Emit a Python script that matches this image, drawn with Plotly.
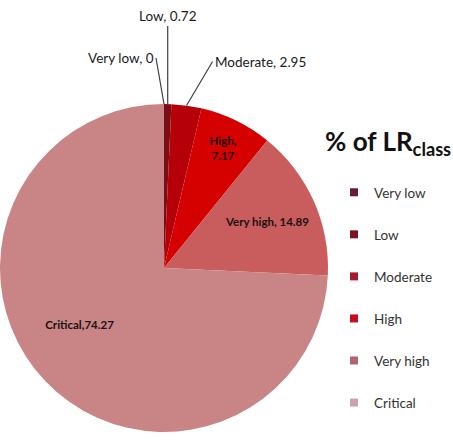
import math
import plotly.graph_objects as go

labels = ["Very low", "Low", "Moderate", "High", "Very high", "Critical"]
values = [0, 0.72, 2.95, 7.17, 14.89, 74.27]
slice_colors = ["#5c1526", "#7b0d16", "#b5000a", "#d50000", "#c95c5c", "#c98585"]
legend_colors = ["#6a1a2c", "#7c1420", "#a51a2e", "#c4101e", "#b26470", "#c9a3aa"]
outside = [True, True, True, False, False, False]

W, H = 453, 444
cx, cy, R = 164, 268, 164

pad = "&nbsp;" * 18
texts = []
for lab, v, out in zip(labels, values, outside):
    if out:
        texts.append(lab)
    elif lab == "High":
        texts.append(f"{lab},<br>{v}")
    elif lab == "Critical":
        texts.append(f"{lab},{v}{pad}")
    else:
        texts.append(f"{lab}, {v}")
positions = ["none" if o else "inside" for o in outside]

fig = go.Figure()
fig.add_trace(go.Pie(
    labels=labels, values=values, sort=False, direction="clockwise", rotation=0,
    marker=dict(colors=slice_colors, line=dict(width=0)),
    text=texts, textinfo="text", textposition=positions, insidetextorientation="horizontal",
    textfont=dict(family="Lato", size=11.5, color="#1a1010", weight="bold"),
    domain=dict(x=[(cx - R) / W, (cx + R) / W], y=[1 - (cy + R) / H, 1 - (cy - R) / H]),
    showlegend=False, hoverinfo="label+value",
))

# legend via dummy traces to get wide item spacing
for lab, col in zip(labels, legend_colors):
    fig.add_trace(go.Scatter(
        x=[None], y=[None], mode="markers", name=lab, legendgroup=lab,
        marker=dict(symbol="square", size=8, color=col),
    ))

# outside labels with leader lines, anchored on the pie rim from the data
def rim(frac):
    a = 2 * math.pi * frac
    return cx + R * math.sin(a), cy - R * math.cos(a)

cum = 0
offsets = {"Very low": (-8, -46), "Low": (0, -78), "Moderate": (26, -44)}
for lab, v, out in zip(labels, values, outside):
    mid = (cum + v / 2) / sum(values)
    cum += v
    if not out:
        continue
    px, py = rim(mid)
    ax, ay = offsets[lab]
    xanchor = {"Very low": "right", "Low": "center", "Moderate": "left"}[lab]
    fig.add_annotation(
        x=px / W, y=1 - py / H, xref="paper", yref="paper",
        ax=ax, ay=ay, text=f"{lab}, {v:g}",
        showarrow=True, arrowhead=0, arrowwidth=1.2, arrowcolor="#404040",
        xanchor=xanchor, yanchor="bottom" if lab == "Low" else "middle",
        font=dict(family="Lato", size=13.5, color="#1a1a1a"),
    )

fig.add_annotation(
    x=323 / W, y=1 - 142 / H, xref="paper", yref="paper", showarrow=False,
    text="<b>% of LR<sub>class</sub></b>", xanchor="left", yanchor="middle",
    font=dict(family="Lato", size=26, color="#111111"),
)

fig.update_layout(
    width=W, height=H, margin=dict(l=0, r=0, t=0, b=0),
    paper_bgcolor="white", plot_bgcolor="white",
    xaxis=dict(visible=False), yaxis=dict(visible=False),
    legend=dict(x=334 / W, y=1 - 177 / H, xanchor="left", yanchor="top",
                tracegroupgap=21.5, itemwidth=30,
                font=dict(family="Lato", size=13.5, color="#333333"),
                bgcolor="rgba(0,0,0,0)"),
)

fig.write_html("out.html")
